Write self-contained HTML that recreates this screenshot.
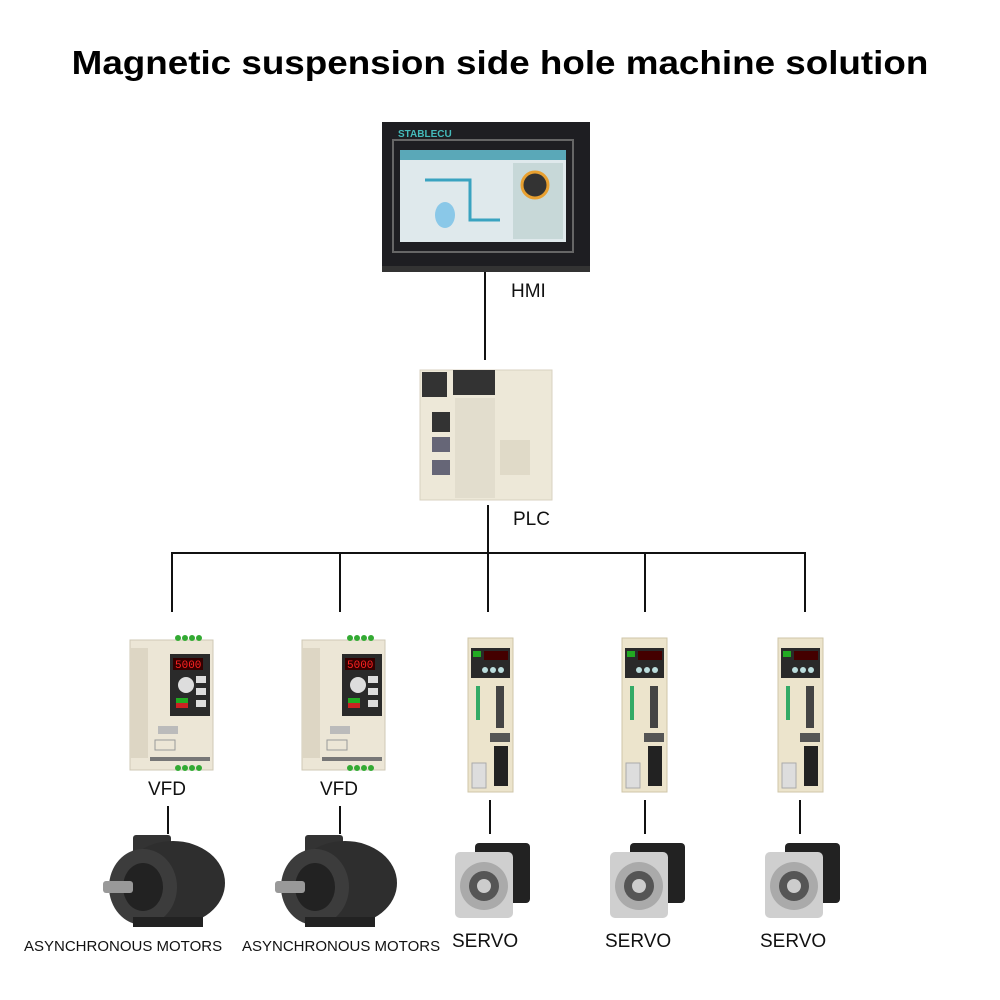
<!DOCTYPE html>
<html><head><style>
html,body{margin:0;padding:0;background:#fff}
body{width:1000px;height:1000px;position:relative;overflow:hidden;font-family:"Liberation Sans",Arial,sans-serif}
.t{position:absolute;white-space:nowrap;color:#111}
</style></head><body>
<svg width="1000" height="1000" style="position:absolute;left:0;top:0">
<defs>
<g id="vfd">
<rect x="0" y="0" width="83" height="130" fill="#ece6d6" stroke="#cfc8b6"/>
<rect x="0" y="8" width="18" height="110" fill="#ddd6c4"/>
<rect x="40" y="14" width="40" height="62" fill="#2a2a2a"/>
<rect x="43" y="18" width="30" height="12" fill="#300"/>
<text x="45" y="28" fill="#f22" font-size="11" font-family="Liberation Mono">5000</text>
<circle cx="56" cy="45" r="8" fill="#ddd"/>
<rect x="46" y="58" width="12" height="5" fill="#2a2"/><rect x="46" y="63" width="12" height="5" fill="#c22"/>
<rect x="66" y="36" width="10" height="7" fill="#ddd"/><rect x="66" y="48" width="10" height="7" fill="#ddd"/><rect x="66" y="60" width="10" height="7" fill="#ddd"/>
<rect x="28" y="86" width="20" height="8" fill="#bbb"/>
<rect x="25" y="100" width="20" height="10" fill="none" stroke="#999"/>
<rect x="20" y="117" width="60" height="4" fill="#777"/>
<circle cx="48" cy="-2" r="3" fill="#3a3"/><circle cx="55" cy="-2" r="3" fill="#3a3"/><circle cx="62" cy="-2" r="3" fill="#3a3"/><circle cx="69" cy="-2" r="3" fill="#3a3"/>
<circle cx="48" cy="128" r="3" fill="#3a3"/><circle cx="55" cy="128" r="3" fill="#3a3"/><circle cx="62" cy="128" r="3" fill="#3a3"/><circle cx="69" cy="128" r="3" fill="#3a3"/>
</g>
<g id="servo">
<rect x="0" y="0" width="45" height="154" fill="#ece4cc" stroke="#cfc6a8"/>
<rect x="3" y="10" width="39" height="30" fill="#2a2a2a"/>
<rect x="16" y="13" width="24" height="9" fill="#400"/>
<rect x="5" y="13" width="8" height="6" fill="#2a2"/>
<circle cx="17" cy="32" r="3" fill="#bdd"/><circle cx="25" cy="32" r="3" fill="#bdd"/><circle cx="33" cy="32" r="3" fill="#bdd"/>
<rect x="8" y="48" width="4" height="34" fill="#3a6"/>
<rect x="28" y="48" width="8" height="42" fill="#444"/>
<rect x="22" y="95" width="20" height="9" fill="#555"/>
<rect x="26" y="108" width="14" height="40" fill="#222"/>
<rect x="4" y="125" width="14" height="25" fill="#ddd" stroke="#aaa"/>
</g>
<g id="motor">
<rect x="30" y="0" width="38" height="22" fill="#333" rx="3"/>
<ellipse cx="70" cy="48" rx="52" ry="42" fill="#2e2e2e"/>
<ellipse cx="40" cy="52" rx="34" ry="38" fill="#3c3c3c"/>
<ellipse cx="40" cy="52" rx="20" ry="24" fill="#222"/>
<rect x="0" y="46" width="30" height="12" fill="#999" rx="3"/>
<rect x="30" y="82" width="70" height="10" fill="#222"/>
</g>
<g id="smotor">
<rect x="20" y="3" width="55" height="60" fill="#222" rx="4"/>
<rect x="0" y="12" width="58" height="66" fill="#cfcfcf" rx="5"/>
<circle cx="29" cy="46" r="24" fill="#aaa"/>
<circle cx="29" cy="46" r="15" fill="#555"/>
<circle cx="29" cy="46" r="7" fill="#ccc"/>
</g>
</defs>
<rect x="382" y="122" width="208" height="150" fill="#1e1e22"/>
<rect x="382" y="266" width="208" height="6" fill="#333"/>
<rect x="393" y="140" width="180" height="112" fill="none" stroke="#666" stroke-width="2"/>
<rect x="400" y="150" width="166" height="92" fill="#dfe9ec"/>
<rect x="400" y="150" width="166" height="10" fill="#5aa8b8"/>
<rect x="513" y="163" width="50" height="76" fill="#c7d8d8"/>
<circle cx="535" cy="185" r="13" fill="#333" stroke="#e8a030" stroke-width="3"/>
<path d="M425 180 H470 V220 H500" stroke="#3aa3c0" stroke-width="3" fill="none"/>
<ellipse cx="445" cy="215" rx="10" ry="13" fill="#8ac8e8"/>
<text x="398" y="137" fill="#4bb" font-size="10" font-weight="bold">STABLECU</text>
<rect x="420" y="370" width="132" height="130" fill="#ede8d8" stroke="#d8d2c0"/>
<rect x="422" y="372" width="25" height="25" fill="#333"/>
<rect x="453" y="370" width="42" height="25" fill="#333"/>
<rect x="432" y="412" width="18" height="20" fill="#333"/>
<rect x="432" y="437" width="18" height="15" fill="#667"/>
<rect x="432" y="460" width="18" height="15" fill="#667"/>
<rect x="455" y="398" width="40" height="100" fill="#e2ddcd"/>
<rect x="500" y="440" width="30" height="35" fill="#e0dac8"/>
<g stroke="#111" stroke-width="2" fill="none">
<line x1="485" y1="272" x2="485" y2="360"/>
<line x1="488" y1="505" x2="488" y2="553"/>
<line x1="171" y1="553" x2="806" y2="553"/>
<line x1="172" y1="553" x2="172" y2="612"/>
<line x1="340" y1="553" x2="340" y2="612"/>
<line x1="488" y1="553" x2="488" y2="612"/>
<line x1="645" y1="553" x2="645" y2="612"/>
<line x1="805" y1="553" x2="805" y2="612"/>
<line x1="168" y1="806" x2="168" y2="834"/>
<line x1="340" y1="806" x2="340" y2="834"/>
<line x1="490" y1="800" x2="490" y2="834"/>
<line x1="645" y1="800" x2="645" y2="834"/>
<line x1="800" y1="800" x2="800" y2="834"/>
</g>
<use href="#vfd" x="130" y="640"/>
<use href="#vfd" x="302" y="640"/>
<use href="#servo" x="468" y="638"/>
<use href="#servo" x="622" y="638"/>
<use href="#servo" x="778" y="638"/>
<use href="#motor" x="103" y="835"/>
<use href="#motor" x="275" y="835"/>
<use href="#smotor" x="455" y="840"/>
<use href="#smotor" x="610" y="840"/>
<use href="#smotor" x="765" y="840"/>
</svg>
<div class="t" style="left:0;width:1000px;text-align:center;top:44px;font-size:33px;font-weight:bold;color:#000;transform:scaleX(1.115);transform-origin:500px 0">Magnetic suspension side hole machine solution</div>
<div class="t" style="left:511px;top:281px;font-size:19px">HMI</div>
<div class="t" style="left:513px;top:509px;font-size:19px">PLC</div>
<div class="t" style="left:148px;top:779px;font-size:19px">VFD</div>
<div class="t" style="left:320px;top:779px;font-size:19px">VFD</div>
<div class="t" style="left:24px;top:938px;font-size:15px">ASYNCHRONOUS MOTORS</div>
<div class="t" style="left:242px;top:938px;font-size:15px">ASYNCHRONOUS MOTORS</div>
<div class="t" style="left:452px;top:931px;font-size:19px">SERVO</div>
<div class="t" style="left:605px;top:931px;font-size:19px">SERVO</div>
<div class="t" style="left:760px;top:931px;font-size:19px">SERVO</div>
</body></html>
